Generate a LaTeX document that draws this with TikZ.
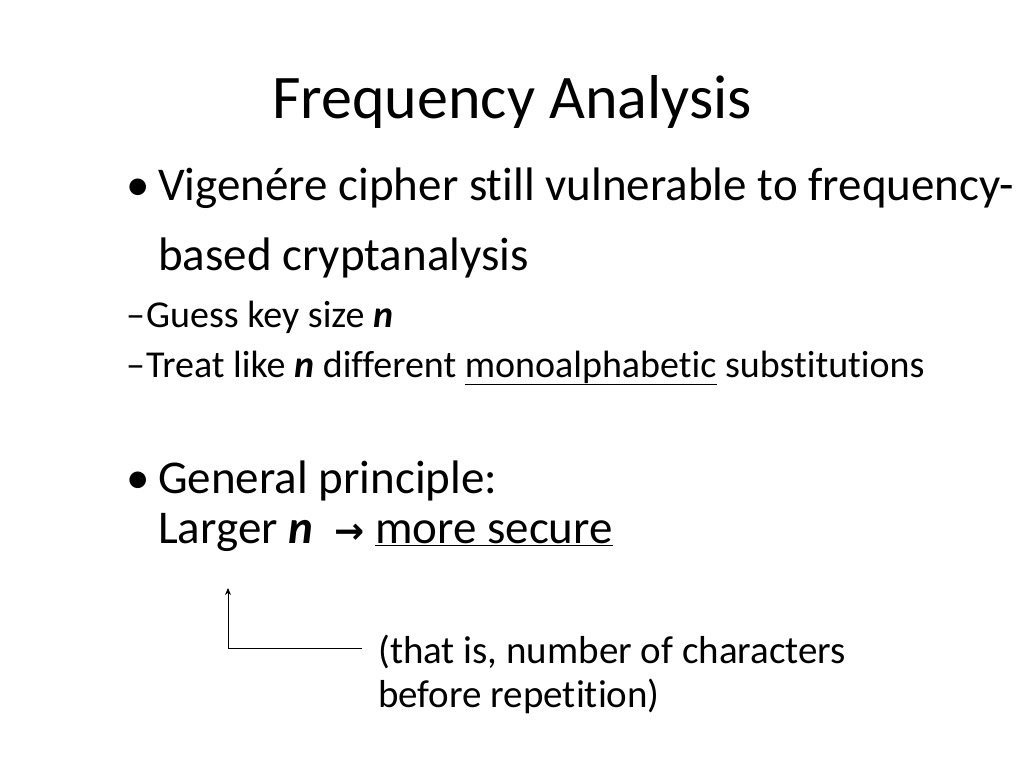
\documentclass[tikz,border=0pt]{standalone}
\usepackage{fontspec}
\usetikzlibrary{arrows.meta}
\setmainfont{Carlito}[Ligatures={NoCommon}]
\newfontfamily\symf{DejaVu Sans}
\begin{document}
\begin{tikzpicture}[x=1pt,y=-1pt,
  txt/.style={anchor=base west,inner sep=0pt,font=\fontsize{47}{54}\selectfont},
  sub/.style={anchor=base west,inner sep=0pt,font=\fontsize{38}{44}\selectfont},
  note/.style={anchor=base west,inner sep=0pt,font=\fontsize{39}{44}\selectfont}]
\useasboundingbox (0,0) rectangle (1024,768);
\node[anchor=base,inner sep=0pt,font=\fontsize{62}{70}\selectfont] (title) at (512,118) {Frequency Analysis};
\node[txt] (b1) at (126,200) {•};
\node[txt] (l1) at (158,200) {Vigenére cipher still vulnerable to frequency-};
\node[txt] (l2) at (158,270) {based cryptanalysis};
\node[sub] (s1d) at (126,327) {–};
\node[sub] (s1) at (146,327) {Guess key size \textbf{\textit{n}}};
\node[sub] (s2d) at (126,377) {–};
\node[sub] (s2) at (146,377) {Treat like \textbf{\textit{n}} different \underline{monoalphabetic} substitutions};
\node[txt] (b2) at (126,493) {•};
\node[txt] (l3) at (158,493) {General principle:};
\node[txt] (l4) at (158,543) {Larger \textbf{\textit{n}} \ {\symf\bfseries\fontsize{36}{40}\selectfont →} \underline{more secure}};
\coordinate (top) at (228,588);
\coordinate (corner) at (228,648);
\coordinate (end) at (362,648);
\draw[line width=0.9pt,-{Stealth[length=7pt,width=6pt]}] (end) -- (corner) -- (top);
\node[note] (n1) at (378,663) {(that is, number of characters};
\node[note] (n2) at (378,707) {before repetition)};
\end{tikzpicture}
\end{document}
